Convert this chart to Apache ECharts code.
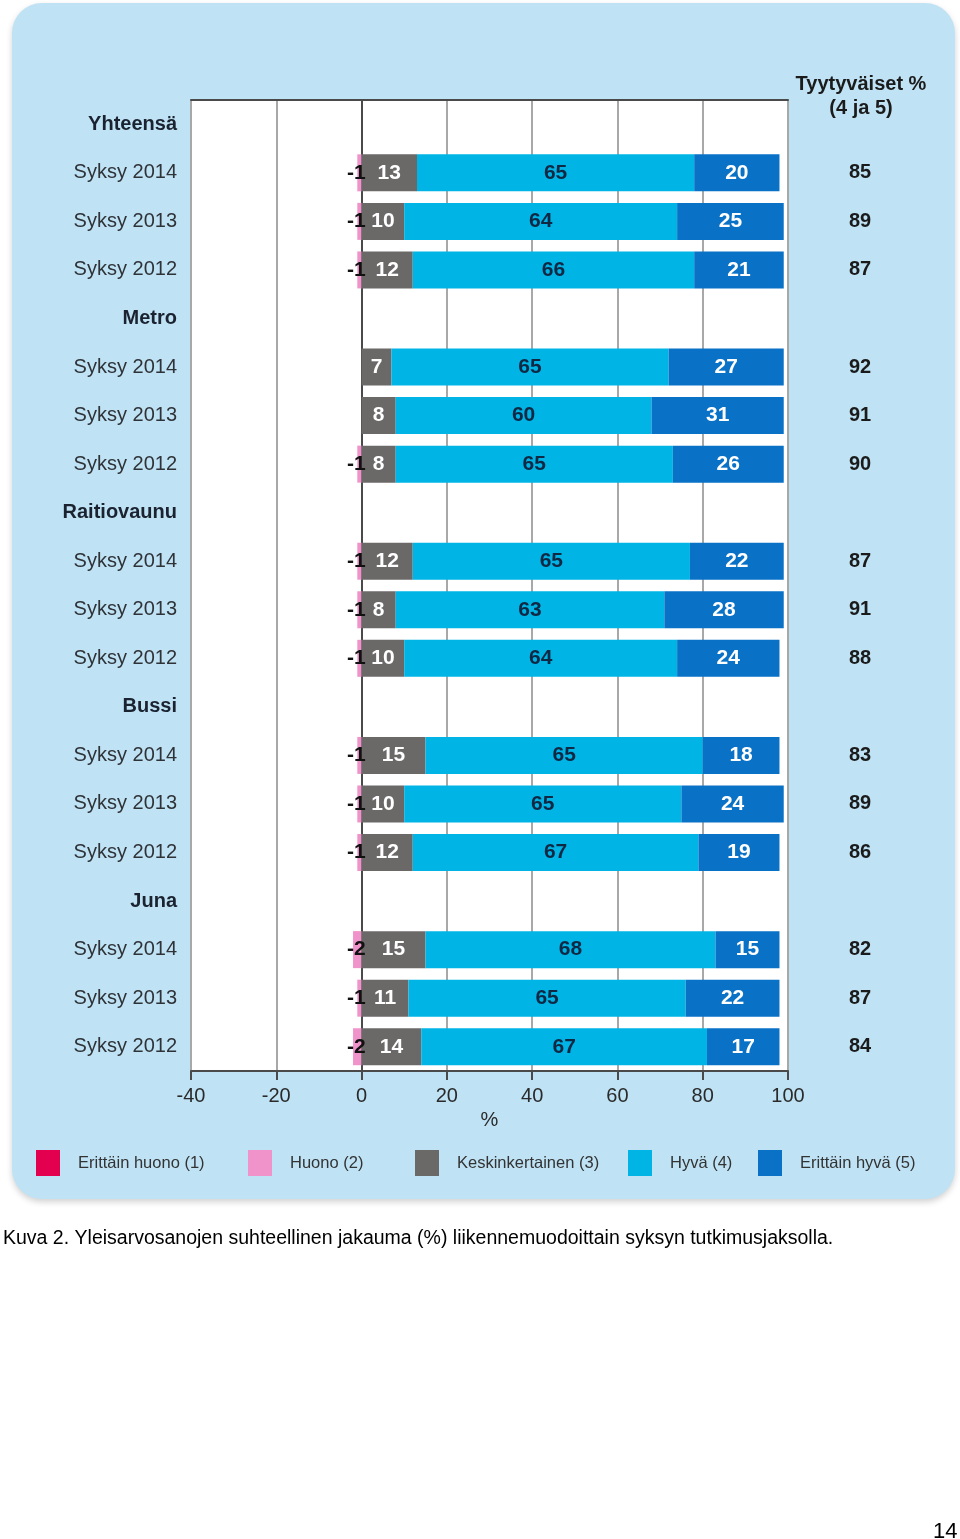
<!DOCTYPE html>
<html>
<head>
<meta charset="utf-8">
<script src="https://cdn.jsdelivr.net/npm/echarts@6/dist/echarts.min.js"></script>
<style>
html,body{margin:0;padding:0;background:#fff;}
#c{width:960px;height:1539px;}
</style>
</head>
<body>
<div id="c"></div>
<script>
// ---- data ----
const groups = ['Yhteensä', 'Metro', 'Raitiovaunu', 'Bussi', 'Juna'];
const years = ['Syksy 2014', 'Syksy 2013', 'Syksy 2012'];
const seriesNames = ['Erittäin huono (1)', 'Huono (2)', 'Keskinkertainen (3)', 'Hyvä (4)', 'Erittäin hyvä (5)'];
const veryPoor = [0,0,0, 0,0,0, 0,0,0, 0,0,0, 0,0,0];
const poor     = [-1,-1,-1, 0,0,-1, -1,-1,-1, -1,-1,-1, -2,-1,-2];
const average  = [13,10,12, 7,8,8, 12,8,10, 15,10,12, 15,11,14];
const good     = [65,64,66, 65,60,65, 65,63,64, 65,65,67, 68,65,67];
const veryGood = [20,25,21, 27,31,26, 22,28,24, 18,24,19, 15,22,17];
const satisfied = [85,89,87, 92,91,90, 87,91,88, 83,89,86, 82,87,84];
const xTicks = [-40, -20, 0, 20, 40, 60, 80, 100];

// ---- build rows (group header rows have no bars) ----
const categories = [];
const isHeader = [];
const rowIndex = [];
groups.forEach((g, gi) => {
  categories.push(g); isHeader.push(true); rowIndex.push(-1);
  years.forEach((y, yi) => {
    categories.push(y); isHeader.push(false); rowIndex.push(gi * years.length + yi);
  });
});
const expand = arr => rowIndex.map(r => r < 0 ? null : arr[r]);
const satLabels = rowIndex.map(r => r < 0 ? '' : String(satisfied[r]));

const FONT = '"Liberation Sans", Arial, sans-serif';
const colors = ['#e2004f', '#f093cb', '#6b6868', '#00b4e6', '#0a72c6'];
const labelColors = [null, '#111111', '#ffffff', '#0f2945', '#ffffff'];
const values = [veryPoor, poor, average, good, veryGood];

const series = values.map((arr, i) => ({
  name: seriesNames[i],
  type: 'bar',
  stack: 'total',
  barWidth: 37,
  data: expand(arr),
  itemStyle: { color: colors[i] },
  label: {
    show: i > 0,
    position: i === 1 ? 'insideRight' : 'inside',
    distance: i === 1 ? -4 : 5,
    color: labelColors[i] || '#fff',
    fontFamily: FONT,
    fontWeight: 'bold',
    fontSize: 21,
    formatter: p => (p.value === 0 || p.value == null) ? '' : String(p.value)
  },
  emphasis: { disabled: true },
  animation: false
}));

const lineColors = xTicks.map(v => v === 0 ? '#4a4a4a' : '#a8a8a8');
const legendX = [36, 248, 415, 628, 758];

const option = {
  animation: false,
  backgroundColor: '#ffffff',
  title: [
    {
      text: 'Tyytyväiset %\n(4 ja 5)',
      left: 861, top: 72, textAlign: 'center', padding: 0,
      textStyle: { fontFamily: FONT, fontSize: 20, fontWeight: 'bold', color: '#1b1b1b', lineHeight: 24 }
    },
    {
      text: 'Kuva 2. Yleisarvosanojen suhteellinen jakauma (%) liikennemuodoittain syksyn tutkimusjaksolla.',
      left: 3, top: 1229, padding: 0,
      textStyle: { fontFamily: FONT, fontSize: 19.5, fontWeight: 'normal', color: '#000' }
    },
    {
      text: '14',
      left: 933, top: 1521, padding: 0,
      textStyle: { fontFamily: FONT, fontSize: 22, fontWeight: 'normal', color: '#000' }
    }
  ],
  graphic: [
    {
      type: 'rect', z: -100,
      shape: { x: 12, y: 3, width: 943, height: 1196, r: 30 },
      style: { fill: '#bfe3f5', shadowBlur: 6, shadowColor: 'rgba(0,0,0,0.18)', shadowOffsetY: 3 }
    }
  ],
  legend: seriesNames.map((n, i) => ({
    data: [n],
    left: legendX[i], top: 1150,
    orient: 'horizontal',
    icon: 'rect', itemWidth: 24, itemHeight: 26,
    selectedMode: false,
    padding: 0,
    textStyle: { fontFamily: FONT, fontSize: 16.5, color: '#333', padding: [0, 0, 0, 13] }
  })),
  grid: {
    left: 191, right: 172, top: 100, bottom: 468,
    show: true, backgroundColor: '#ffffff', borderWidth: 0,
    outerBoundsMode: 'none'
  },
  xAxis: [
    {
      type: 'value', min: -40, max: 100, interval: 20, position: 'bottom',
      axisLine: { show: true, onZero: false, lineStyle: { color: '#4a4a4a', width: 2 } },
      axisTick: { show: true, length: 9, lineStyle: { color: '#4a4a4a', width: 2 } },
      axisLabel: { fontFamily: FONT, fontSize: 20, color: '#2a2a2a', margin: 15 },
      splitLine: { show: true, lineStyle: { color: lineColors, width: 2 } },
      name: '%', nameLocation: 'middle', nameGap: 39,
      nameTextStyle: { fontFamily: FONT, fontSize: 20, color: '#2a2a2a' }
    },
    {
      type: 'value', min: -40, max: 100, interval: 20, position: 'top',
      axisLine: { show: true, onZero: false, lineStyle: { color: '#4a4a4a', width: 2 } },
      axisTick: { show: false }, axisLabel: { show: false }, splitLine: { show: false }
    }
  ],
  yAxis: [
    {
      type: 'category', inverse: true, data: categories,
      axisLine: { show: false }, axisTick: { show: false }, splitLine: { show: false },
      axisLabel: {
        margin: 14,
        formatter: (v, idx) => isHeader[idx] ? '{h|' + v + '}' : '{y|' + v + '}',
        rich: {
          h: { fontFamily: FONT, fontSize: 20, fontWeight: 'bold', color: '#1b2230' },
          y: { fontFamily: FONT, fontSize: 20, color: '#2f3338' }
        }
      }
    },
    {
      type: 'category', inverse: true, position: 'right', data: satLabels,
      axisLine: { show: false }, axisTick: { show: false }, splitLine: { show: false },
      axisLabel: { margin: 72, align: 'center', fontFamily: FONT, fontSize: 20, fontWeight: 'bold', color: '#1b1b1b' }
    }
  ],
  series: series
};

const chart = echarts.init(document.getElementById('c'), null, { renderer: 'canvas', width: 960, height: 1539 });
chart.setOption(option);
</script>
</body>
</html>
